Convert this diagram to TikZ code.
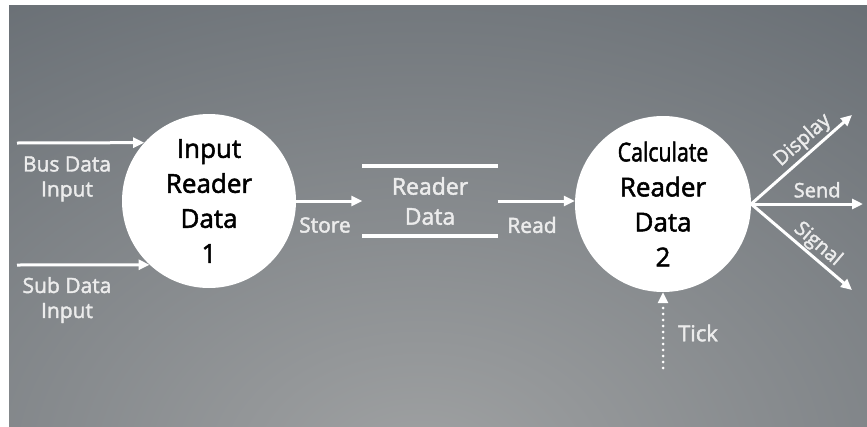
\documentclass[tikz,border=0pt]{standalone}
\usepackage{fontspec}
\setmainfont{Open Sans}
\usetikzlibrary{arrows.meta}
\definecolor{bgdark}{RGB}{92,99,106}
\definecolor{bglight}{RGB}{160,162,163}
\definecolor{labtext}{RGB}{236,236,236}
% slightly heavier cuts of the sans face, one per size in use
\font\procfont="Open Sans:embolden=2" at 26pt
\font\storefont="Open Sans:embolden=2" at 23pt
\font\labfont="Open Sans:embolden=2" at 21pt
\font\outfont="Open Sans:embolden=2" at 20pt
\font\tickfont="Open Sans:embolden=2" at 22pt
\newcommand\procstyle{\procfont\baselineskip=35pt\relax}
\newcommand\storestyle{\storefont\baselineskip=30pt\relax}
\newcommand\labstyle{\labfont\baselineskip=25pt\relax}
\begin{document}
\begin{tikzpicture}[x=1pt,y=-1pt,
  flow/.style={draw=white, line width=3pt, -{Triangle[length=11pt,width=10pt]}},
  proc/.style={circle, fill=white, minimum size=174pt, inner sep=0pt, align=center,
    text=black, font=\procstyle},
  lab/.style={text=labtext, align=center, font=\labstyle, inner sep=1pt},
  outlab/.style={text=labtext, font=\outfont, inner sep=2pt},
]
\useasboundingbox (0,0) rectangle (867,426);

% backdrop: dark slate with a lighter glow near the bottom
\begin{scope}
  \clip (9,5) rectangle (867,426);
  \fill[bgdark] (9,5) rectangle (867,426);
  \shade[inner color=bglight, outer color=bgdark] (420,470) ellipse [x radius=1000pt, y radius=700pt];
\end{scope}

% processes
\node[proc] (c1) at (209,201) {Input\\Reader\\Data\\1};
\node[proc, minimum size=176pt] (c2) at (663,204) {\scalebox{0.82}[1]{Calculate}\\Reader\\Data\\2};

% data store
\node[minimum width=135pt, minimum height=70pt, inner sep=0pt, text=labtext, align=center,
  font=\storestyle] (store) at (430,201) {Reader\\Data};
\draw[white, line width=4pt] (store.north west) -- (store.north east)
  (store.south west) -- (store.south east);

% external inputs
\coordinate (busin) at (17,143);
\coordinate (subin) at (17,265);
\draw[flow] (busin) -- (c1.138);
\draw[flow] (subin) -- (c1.227);
\node[lab] (buslbl) at (67,179) {Bus Data\\Input};
\node[lab] (sublbl) at (67,300) {Sub Data\\Input};

% store and read
\draw[flow] (c1.east) -- (store.west);
\draw[flow] (store.east) -- (store.east -| c2.west);
\node[lab] (storelbl) at (325,225) {Store};
\node[lab] (readlbl) at (532,225) {Read};

% outputs
\coordinate (dispend) at (852,115);
\coordinate (sendend) at (863,204);
\coordinate (sigend) at (852,290);
\draw[flow] (c2.east) -- node[outlab, sloped, above, pos=0.6] (displbl) {Display} (dispend);
\draw[flow] (c2.east) -- node[outlab, above=3pt, pos=0.59] (sendlbl) {Send} (sendend);
\draw[flow] (c2.east) -- node[outlab, sloped, above, pos=0.58, inner sep=1pt] (siglbl) {Signal} (sigend);

% clock tick
\coordinate (tickin) at (663,368);
\draw[white, line width=3pt, line cap=round, dash pattern=on 0pt off 6pt,
  -{Triangle[length=11pt,width=10pt]}] (tickin) -- (c2.south);
\node[lab, font=\tickfont] (ticklbl) at (698,333) {Tick};
\end{tikzpicture}
\end{document}
